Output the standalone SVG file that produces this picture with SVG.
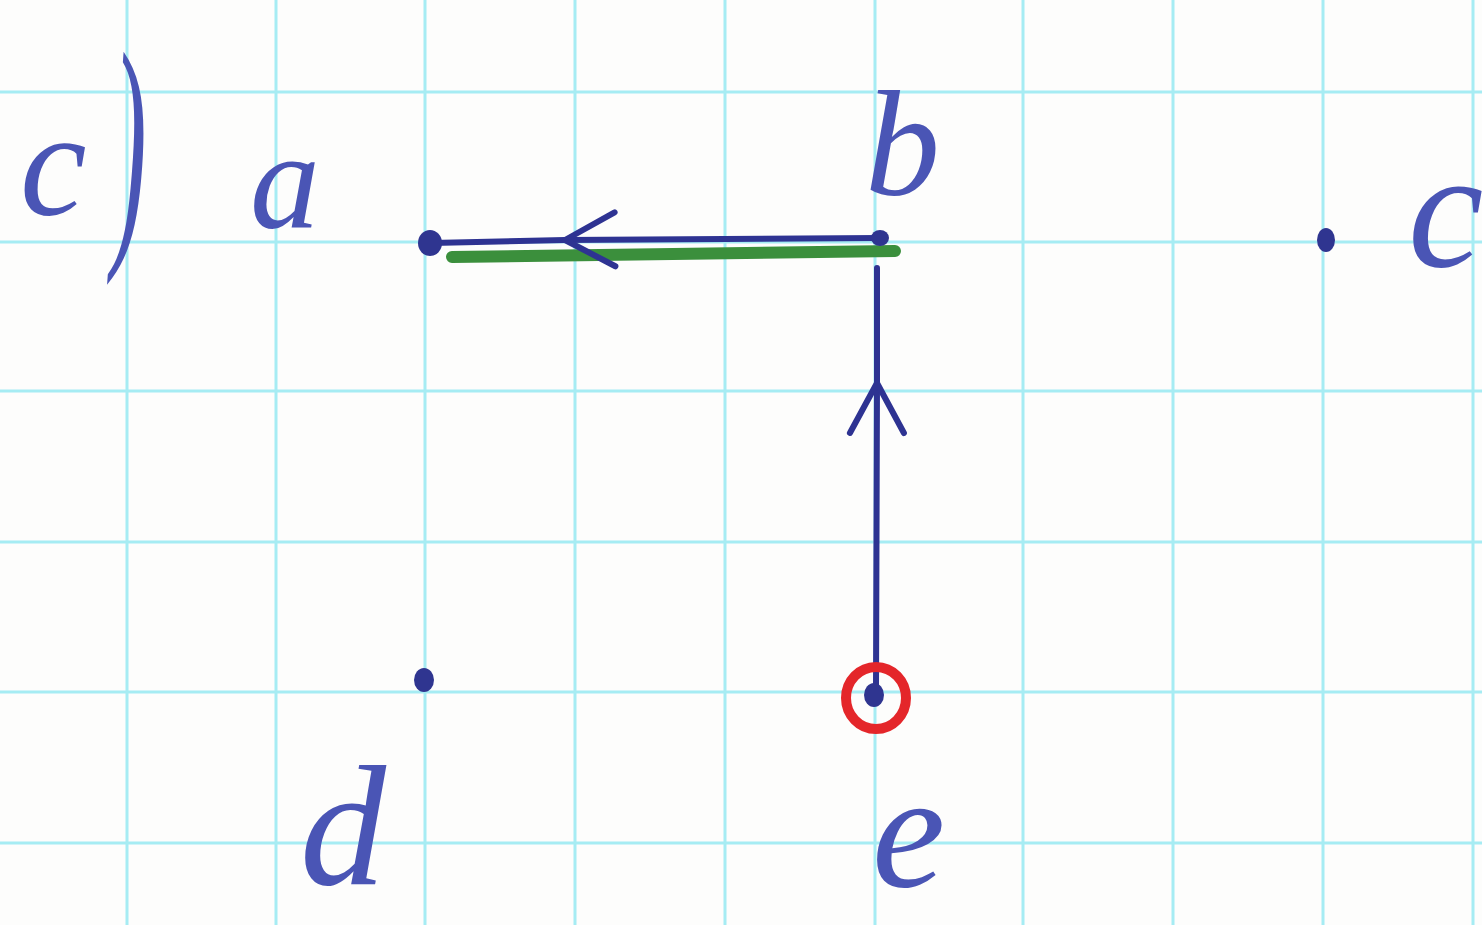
<svg xmlns="http://www.w3.org/2000/svg" width="1482" height="925" viewBox="0 0 1482 925">
<style>
.grid line{stroke:#a6ecf3;stroke-width:3}
.lbl{font-family:"Liberation Serif","DejaVu Serif",serif;font-style:italic;fill:#4a55b5}
.dot{fill:#2f3590}
.edge{fill:none;stroke:#2e3392;stroke-width:6;stroke-linecap:round;stroke-linejoin:round}
</style>
<defs>
<marker id="chev" markerUnits="userSpaceOnUse" viewBox="-60 -40 70 80" markerWidth="70" markerHeight="80" refX="0" refY="0" orient="auto" overflow="visible">
<path d="M-50,-27 L0,0 L-50,27" fill="none" stroke="#2e3392" stroke-width="6" stroke-linecap="round" stroke-linejoin="round"/>
</marker>
</defs>
<rect width="1482" height="925" fill="#fdfdfc"/>
<g class="grid">
<line x1="127" y1="0" x2="127" y2="925"/>
<line x1="276" y1="0" x2="276" y2="925"/>
<line x1="425" y1="0" x2="425" y2="925"/>
<line x1="575" y1="0" x2="575" y2="925"/>
<line x1="725" y1="0" x2="725" y2="925"/>
<line x1="875" y1="0" x2="875" y2="925"/>
<line x1="1023" y1="0" x2="1023" y2="925"/>
<line x1="1173" y1="0" x2="1173" y2="925"/>
<line x1="1323" y1="0" x2="1323" y2="925"/>
<line x1="1473" y1="0" x2="1473" y2="925"/>
<line x1="0" y1="92" x2="1482" y2="92"/>
<line x1="0" y1="242" x2="1482" y2="242"/>
<line x1="0" y1="391" x2="1482" y2="391"/>
<line x1="0" y1="542" x2="1482" y2="542"/>
<line x1="0" y1="692" x2="1482" y2="692"/>
<line x1="0" y1="843" x2="1482" y2="843"/>
</g>
<g id="title">
<text class="lbl" x="20" y="215" font-size="150">c</text>
<text class="lbl" x="0" y="0" font-size="80" transform="translate(112,230) scale(1.3,3.2)">)</text>
</g>
<g id="connectors">
<line x1="452" y1="257" x2="895" y2="251" stroke="#3b8f3c" stroke-width="12" stroke-linecap="round"/>
<path class="edge" d="M880,238 L565,240 L432,243" marker-mid="url(#chev)"/>
<path class="edge" d="M876,688 L877,383 L877,268" marker-mid="url(#chev)"/>
</g>
<g id="node-a">
<ellipse class="dot" cx="430" cy="243" rx="12" ry="13"/>
<text class="lbl" x="250" y="228" font-size="140">a</text>
</g>
<g id="node-b">
<ellipse class="dot" cx="880" cy="238" rx="9" ry="8"/>
<text class="lbl" x="865" y="195" font-size="150">b</text>
</g>
<g id="node-c">
<ellipse class="dot" cx="1326" cy="240" rx="9" ry="12"/>
<text class="lbl" x="1408" y="266" font-size="170">c</text>
</g>
<g id="node-d">
<ellipse class="dot" cx="424" cy="680" rx="10" ry="12"/>
<text class="lbl" x="300" y="884" font-size="172">d</text>
</g>
<g id="node-e">
<ellipse cx="876" cy="698" rx="30" ry="31" fill="none" stroke="#e4262a" stroke-width="10"/>
<ellipse class="dot" cx="874" cy="695" rx="10" ry="12"/>
<text class="lbl" x="872" y="886" font-size="165">e</text>
</g>
</svg>
